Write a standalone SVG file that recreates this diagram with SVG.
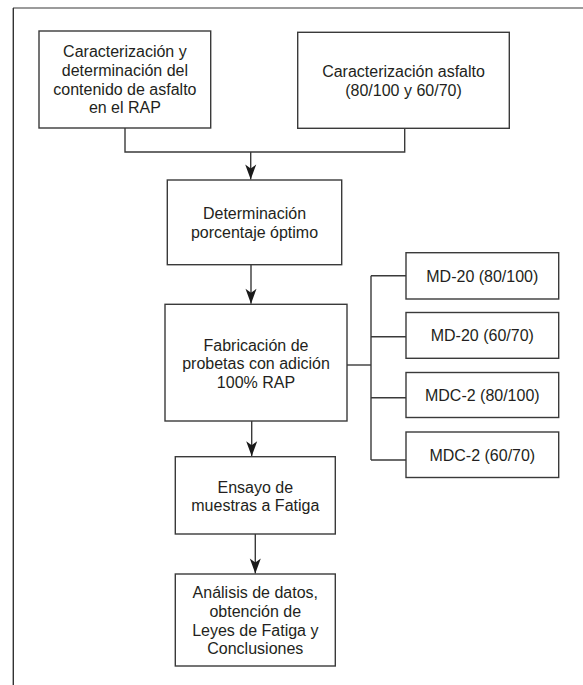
<svg xmlns="http://www.w3.org/2000/svg" width="583" height="685" viewBox="0 0 583 685">
<style>
.box{fill:#fff;stroke:#3a3a3a;stroke-width:1.4}
.t{font-family:"Liberation Sans",Arial,Helvetica,sans-serif;font-size:16px;fill:#231f20;text-anchor:middle}
.c{fill:none;stroke:#3a3a3a;stroke-width:1.4}
</style>
<defs>
<marker id="ah" markerUnits="userSpaceOnUse" markerWidth="18" markerHeight="14" viewBox="-16 -7 18 14" refX="0" refY="0" orient="auto">
<path d="M0,0 L-15,-5.5 L-11,0 L-15,5.5 Z" fill="#1a1a1a"/>
</marker>
</defs>
<rect width="583" height="685" fill="#fff"/>
<g id="frame">
<line x1="13" y1="8" x2="583" y2="8" stroke="#7a7a7a" stroke-width="1.4"/>
<line x1="13.3" y1="8" x2="13.3" y2="685" stroke="#333" stroke-width="1.4"/>
</g>
<g id="connectors">
<path class="c" d="M125,128 V152 H404.7 V128.5"/>
<line class="c" x1="250.7" y1="152" x2="250.7" y2="179.5" marker-end="url(#ah)"/>
<line class="c" x1="251" y1="264.7" x2="251" y2="303.8" marker-end="url(#ah)"/>
<line class="c" x1="251.7" y1="421" x2="251.7" y2="456.2" marker-end="url(#ah)"/>
<line class="c" x1="255.3" y1="534" x2="255.3" y2="573.5" marker-end="url(#ah)"/>
<line class="c" x1="347" y1="365" x2="371" y2="365"/>
<line class="c" x1="371" y1="275.7" x2="371" y2="460"/>
<line class="c" x1="371" y1="275.7" x2="406" y2="275.7"/>
<line class="c" x1="371" y1="336.7" x2="406" y2="336.7"/>
<line class="c" x1="371" y1="397.7" x2="406" y2="397.7"/>
<line class="c" x1="371" y1="460" x2="406" y2="460"/>
</g>
<g id="n1">
<rect class="box" x="39" y="31" width="171.7" height="97"/>
<text class="t" x="124.9" y="57.3">Caracterización y</text>
<text class="t" x="124.9" y="76">determinación del</text>
<text class="t" x="124.9" y="94.7">contenido de asfalto</text>
<text class="t" x="124.9" y="113.4">en el RAP</text>
</g>
<g id="n2">
<rect class="box" x="297.7" y="32.3" width="211.6" height="96"/>
<text class="t" x="403.5" y="77.3">Caracterización asfalto</text>
<text class="t" x="403.5" y="96">(80/100 y 60/70)</text>
</g>
<g id="n3">
<rect class="box" x="167.3" y="180" width="174.4" height="84.7"/>
<text class="t" x="254.5" y="219">Determinación</text>
<text class="t" x="254.5" y="237.7">porcentaje óptimo</text>
</g>
<g id="n4">
<rect class="box" x="165" y="304.3" width="182" height="116.7"/>
<text class="t" x="256" y="350.5">Fabricación de</text>
<text class="t" x="256" y="369">probetas con adición</text>
<text class="t" x="256" y="387.5">100% RAP</text>
</g>
<g id="n5">
<rect class="box" x="175.3" y="456.7" width="160" height="77.3"/>
<text class="t" x="255.3" y="492.5">Ensayo de</text>
<text class="t" x="255.3" y="511.2">muestras a Fatiga</text>
</g>
<g id="n6">
<rect class="box" x="175.3" y="574" width="160" height="92"/>
<text class="t" x="255.3" y="598.3">Análisis de datos,</text>
<text class="t" x="255.3" y="617">obtención de</text>
<text class="t" x="255.3" y="635.7">Leyes de Fatiga y</text>
<text class="t" x="255.3" y="654.3">Conclusiones</text>
</g>
<g id="m1">
<rect class="box" x="406" y="252.7" width="152.7" height="46.3"/>
<text class="t" x="482.3" y="281.5">MD-20 (80/100)</text>
</g>
<g id="m2">
<rect class="box" x="406" y="312.5" width="152.7" height="45.8"/>
<text class="t" x="482.3" y="341">MD-20 (60/70)</text>
</g>
<g id="m3">
<rect class="box" x="406" y="372.5" width="152.7" height="45"/>
<text class="t" x="482.3" y="401">MDC-2 (80/100)</text>
</g>
<g id="m4">
<rect class="box" x="406" y="432" width="152.7" height="45.5"/>
<text class="t" x="482.3" y="460.5">MDC-2 (60/70)</text>
</g>
</svg>
